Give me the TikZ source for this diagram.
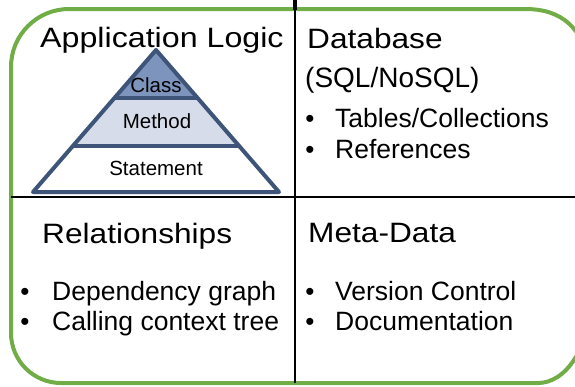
\documentclass[tikz,border=0pt]{standalone}
\usepackage{fontspec}
\setmainfont{Liberation Sans}
\usepackage{graphicx}
\definecolor{frame}{RGB}{112,173,71}
\definecolor{edge}{RGB}{62,84,120}
\definecolor{topfill}{RGB}{125,148,188}
\definecolor{midfill}{RGB}{214,220,233}
\begin{document}
\begin{tikzpicture}[x=1pt, y=-1pt,
    head/.style={anchor=base west, inner sep=0pt, font=\fontsize{28}{32}\selectfont},
    item/.style={anchor=base west, inner sep=0pt, font=\fontsize{26.5}{31}\selectfont},
    dot/.style={anchor=base, inner sep=0pt, font=\fontsize{26}{30}\selectfont},
    layer/.style={anchor=base, inner sep=0pt, font=\fontsize{20.5}{24}\selectfont}]
        \useasboundingbox (0,0) rectangle (575,386);
        \clip (0,0) rectangle (575,386);

        % frame and quadrants
        \draw[color=frame, line width=4pt] (525,9)
            .. controls (560,9) and (585,25) .. (594,80) -- (594,290)
            .. controls (590,350) and (565,383) .. (538,383)
            [rounded corners=50pt] -- (11,383) -- (11,200)
            [rounded corners=58pt] -- (11,9) -- (525,9);
        \draw[line width=1.5pt] (295,0) -- (295,383);
        \draw[line width=4pt] (295,0) -- (295,10);
        \draw[line width=1.5pt] (11,197) -- (575,197);

        % pyramid
        \coordinate (apex) at (156,50);
        \coordinate (bl) at (33,192);
        \coordinate (br) at (279,192);
        \coordinate (ul) at (114.9,97.5);
        \coordinate (ur) at (197.1,97.5);
        \coordinate (ml) at (73.3,145.5);
        \coordinate (mr) at (238.7,145.5);
        \fill[topfill] (apex) -- (ur) -- (ul) -- cycle;
        \fill[midfill] (ul) -- (ur) -- (mr) -- (ml) -- cycle;
        \fill[white] (ml) -- (mr) -- (br) -- (bl) -- cycle;
        \draw[color=edge, line width=4pt, line join=round] (apex) -- (br) -- (bl) -- cycle;
        \draw[color=edge, line width=4pt] (ul) -- (ur) (ml) -- (mr);
        \node[layer] (class) at (156,92) {Class};
        \node[layer] (method) at (157,128) {Method};
        \node[layer] (statement) at (156,175) {Statement};

        % headings
        \node[head] (applogic) at (40,47) {\scalebox{1.15}[1]{Application Logic}};
        \node[head] (database) at (307,48) {\scalebox{1.13}[1]{Database}};
        \node[head] (sql) at (305,87) {(SQL/NoSQL)};
        \node[head] (relations) at (42,243) {\scalebox{1.13}[1]{Relationships}};
        \node[head] (metadata) at (308,242) {\scalebox{1.13}[1]{Meta-Data}};

        % bullet lists
        \node[dot] (b1) at (310,127) {\textbullet};
        \node[item] (tables) at (335,127) {Tables/Collections};
        \node[dot] (b2) at (310,158) {\textbullet};
        \node[item] (refs) at (335,158) {References};
        \node[dot] (b3) at (25,300) {\textbullet};
        \node[item] (depgraph) at (52,300) {Dependency graph};
        \node[dot] (b4) at (25,330) {\textbullet};
        \node[item] (calltree) at (52,330) {Calling context tree};
        \node[dot] (b5) at (310,300) {\textbullet};
        \node[item] (version) at (335,300) {Version Control};
        \node[dot] (b6) at (310,330) {\textbullet};
        \node[item] (docs) at (335,330) {Documentation};
    \end{tikzpicture}
\end{document}
